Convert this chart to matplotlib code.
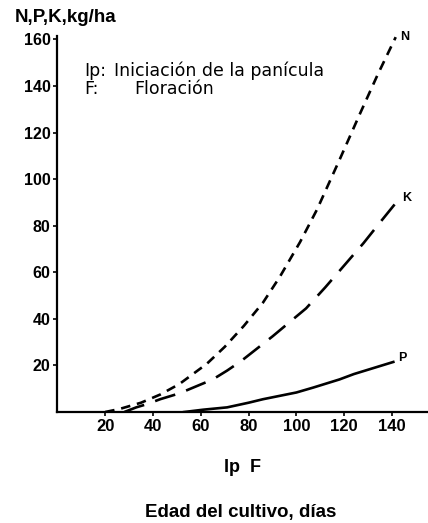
import matplotlib
matplotlib.use("Agg")
import matplotlib.pyplot as plt

plt.rcParams['font.family'] = ['Liberation Sans', 'DejaVu Sans']

# Data
n_days = [20, 26, 35, 43, 51, 62.5, 70, 78, 86, 93, 101.5, 108.6, 118.3, 126.5, 134, 141.5]
n_vals = [0, 1.3, 4, 7.5, 12, 20.7, 28, 37, 47, 58, 73, 87, 109, 128, 145, 161]

k_days = [28, 33, 37.5, 43, 51, 58, 65, 71, 77, 90, 104, 112, 120, 128, 135, 142.5]
k_vals = [0, 2, 3.4, 5.5, 8, 11, 14, 17.8, 22, 32.5, 44.5, 53.5, 63, 72.5, 81.5, 91]

p_days = [53, 61, 71, 80, 86, 100, 107, 118, 124, 140.5]
p_vals = [0, 1, 2, 4, 5.5, 8.4, 10.5, 14, 16.3, 21.5]

x_ticks = [20, 40, 60, 80, 100, 120, 140]
y_ticks = [20, 40, 60, 80, 100, 120, 140, 160]

fig = plt.figure(figsize=(4.28, 5.23), dpi=100)
ax = fig.add_axes([0.134, 0.2122, 0.866, 0.719])

lw = 1.9
ax.plot(n_days, n_vals, color='black', lw=lw, linestyle=(0, (3.6, 2.6)),
        dash_capstyle='butt')
ax.plot(k_days, k_vals, color='black', lw=lw, linestyle=(0, (8.0, 4.4)),
        dash_capstyle='butt')
ax.plot(p_days, p_vals, color='black', lw=lw, linestyle='-')

ax.set_xlim(0, 155)
ax.set_ylim(0, 161.5)
ax.spines['top'].set_visible(False)
ax.spines['right'].set_visible(False)
ax.spines['left'].set_linewidth(1.6)
ax.spines['bottom'].set_linewidth(1.6)

ax.set_xticks(x_ticks)
ax.set_yticks(y_ticks)
ax.set_xticklabels([str(v) for v in x_ticks], fontsize=12, fontweight='bold')
ax.set_yticklabels([str(v) for v in y_ticks], fontsize=11.5, fontweight='bold')
ax.tick_params(direction='out', length=3, width=1.2, pad=2)

# curve labels
ax.text(143.5, 161, 'N', fontsize=9, fontweight='bold', va='center', ha='left')
ax.text(144, 92, 'K', fontsize=9, fontweight='bold', va='center', ha='left')
ax.text(142.5, 23, 'P', fontsize=9, fontweight='bold', va='center', ha='left')

# texts in pixel coords of figure
W, H = 428, 523
def fx(px):
    return px / W
def fy(py):
    return 1 - py / H

ann_font = ['DejaVu Sans']
fig.text(fx(15), fy(18), 'N,P,K,kg/ha', fontsize=13.5, fontweight='bold', va='center', ha='left')
fig.text(fx(84), fy(71), 'Ip:', fontsize=12.5, family=ann_font, va='center', ha='left')
fig.text(fx(114), fy(71), 'Iniciación de la panícula', fontsize=12.5, family=ann_font, va='center', ha='left')
fig.text(fx(84), fy(89), 'F:', fontsize=12.5, family=ann_font, va='center', ha='left')
fig.text(fx(134), fy(89), 'Floración', fontsize=12.5, family=ann_font, va='center', ha='left')
fig.text(fx(242), fy(467), 'Ip  F', fontsize=13, fontweight='bold', va='center', ha='center')
fig.text(fx(241), fy(512), 'Edad del cultivo, días', fontsize=13.5, fontweight='bold', va='center', ha='center')

fig.savefig('out.png', dpi=100)
